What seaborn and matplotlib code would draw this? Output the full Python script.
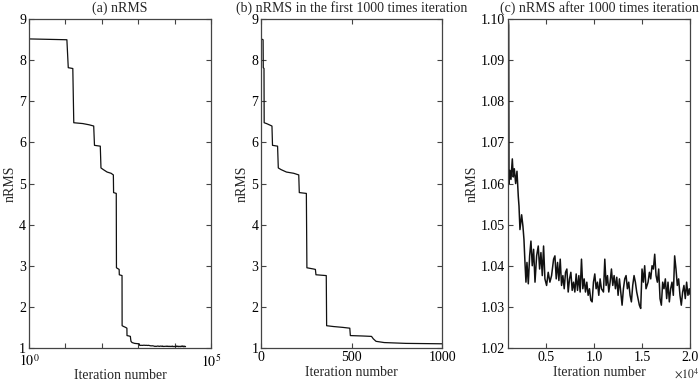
import matplotlib
matplotlib.use("Agg")
import matplotlib.pyplot as plt
import pandas as pd
import seaborn as sns
from matplotlib.ticker import FixedLocator, FuncFormatter, NullLocator


# staircase part of the run, iterations 1..1000
STEP_ITER = [1, 11, 12, 16, 17, 30, 45, 60, 63, 91, 95, 110, 140, 180, 208, 211,
             250, 253, 290, 300, 303, 360, 362, 400, 450, 490, 493, 560, 610,
             620, 635, 680, 800, 1000]
STEP_NRMS = [8.52, 8.50, 7.82, 7.80, 6.48, 6.46, 6.43, 6.40, 5.93, 5.91, 5.38,
             5.34, 5.28, 5.25, 5.21, 4.78, 4.76, 2.95, 2.92, 2.91, 2.78, 2.76,
             1.54, 1.52, 1.50, 1.48, 1.30, 1.29, 1.28, 1.22, 1.16, 1.13, 1.11,
             1.10]

# noisy part after 1000 iterations
TAIL_ITER = [1000, 1040, 1070, 1104, 1208, 1310, 1452, 1550, 1660, 1800, 1938,
             2077, 2150, 2250, 2350, 2424, 2560, 2667, 2772, 2876, 2980, 3120,
             3260, 3396, 3535, 3675, 3820, 3990, 4160, 4300, 4439, 4580, 4715,
             4855, 5030, 5200, 5375, 5550, 5760, 5900, 6036, 6175, 6314, 6452,
             6591, 6730, 6869, 7008, 7146, 7285, 7424, 7563, 7702, 7840, 7979,
             8118, 8257, 8396, 8534, 8673, 8812, 8951, 9090, 9228, 9367, 9506,
             9645, 9784, 9922, 10061, 10200, 10339, 10478, 10616, 10755, 10968,
             11106, 11245, 11384, 11523, 11662, 11800, 11939, 12078, 12217,
             12356, 12494, 12633, 12772, 12911, 13050, 13188, 13327, 13466,
             13605, 13744, 13882, 14021, 14160, 14299, 14438, 14576, 14715,
             14854, 14993, 15132, 15270, 15409, 15623, 15762, 15900, 16039,
             16178, 16317, 16456, 16594, 16733, 16872, 17011, 17150, 17288,
             17427, 17566, 17705, 17844, 17982, 18121, 18260, 18399, 18538,
             18676, 18815, 18954, 19093, 19232, 19370, 19509, 19648, 19787,
             19926, 20000]
TAIL_NRMS = [1.0990, 1.0995, 1.0985, 1.0600, 1.0632, 1.0610, 1.0660, 1.0616,
             1.0636, 1.0600, 1.0630, 1.0568, 1.0545, 1.0488, 1.0508, 1.0524,
             1.0496, 1.0464, 1.0408, 1.0360, 1.0408, 1.0356, 1.0424, 1.0460,
             1.0400, 1.0440, 1.0360, 1.0424, 1.0448, 1.0392, 1.0432, 1.0376,
             1.0448, 1.0368, 1.0352, 1.0384, 1.0360, 1.0376, 1.0416, 1.0424,
             1.0368, 1.0408, 1.0364, 1.0416, 1.0352, 1.0376, 1.0344, 1.0384,
             1.0392, 1.0336, 1.0368, 1.0384, 1.0340, 1.0360, 1.0336, 1.0380,
             1.0340, 1.0376, 1.0336, 1.0416, 1.0344, 1.0368, 1.0336, 1.0360,
             1.0328, 1.0344, 1.0316, 1.0312, 1.0360, 1.0380, 1.0344, 1.0360,
             1.0328, 1.0368, 1.0344, 1.0336, 1.0416, 1.0352, 1.0376, 1.0336,
             1.0360, 1.0392, 1.0352, 1.0376, 1.0344, 1.0372, 1.0328, 1.0368,
             1.0336, 1.0304, 1.0344, 1.0368, 1.0376, 1.0344, 1.0360, 1.0328,
             1.0312, 1.0352, 1.0376, 1.0360, 1.0336, 1.0320, 1.0304, 1.0296,
             1.0392, 1.0360, 1.0400, 1.0344, 1.0360, 1.0384, 1.0368, 1.0400,
             1.0392, 1.0428, 1.0376, 1.0360, 1.0392, 1.0320, 1.0304, 1.0360,
             1.0344, 1.0368, 1.0320, 1.0360, 1.0312, 1.0344, 1.0360, 1.0328,
             1.0424, 1.0392, 1.0352, 1.0368, 1.0328, 1.0304, 1.0336, 1.0352,
             1.0320, 1.0360, 1.0328, 1.0344, 1.0330]

TITLES = ["(a) nRMS", "(b) nRMS in the first 1000 times iteration",
          "(c) nRMS after 1000 times iteration"]
X_LABEL = "Iteration number"
Y_LABEL = "nRMS"

sns.set_theme(style="ticks")
plt.rcParams["font.family"] = ["Liberation Serif", "DejaVu Serif"]
plt.rcParams["mathtext.fontset"] = "stix"
plt.rcParams["axes.edgecolor"] = "#444444"
plt.rcParams["axes.linewidth"] = 0.9

step = pd.DataFrame({"iteration": STEP_ITER, "nrms": STEP_NRMS})
tail = pd.DataFrame({"iteration": TAIL_ITER, "nrms": TAIL_NRMS})
full = pd.concat([step, tail.iloc[1:]], ignore_index=True)

fig = plt.figure(figsize=(7.0, 3.84), dpi=100)
ax_a = fig.add_axes([0.0414, 0.094, 0.260, 0.856])
ax_b = fig.add_axes([0.373, 0.094, 0.2586, 0.856])
ax_c = fig.add_axes([0.7257, 0.094, 0.260, 0.856])

fs = 10
widths = [0.9, 0.9, 1.1]
for ax, frame, title, lw in zip([ax_a, ax_b, ax_c], [full, step, tail], TITLES, widths):
    sns.lineplot(data=frame, x="iteration", y="nrms", ax=ax, color="#111111",
                 linewidth=lw, estimator=None, sort=False)
    ax.set_title(title, fontsize=fs, pad=5)
    ax.set_xlabel(X_LABEL, fontsize=fs, labelpad=2)
    ax.set_ylabel(Y_LABEL, fontsize=fs, labelpad=2)
    ax.tick_params(direction="in", top=True, right=True, length=3.5, width=0.8,
                   colors="#444444", labelcolor="black", labelsize=fs, pad=2)
    for spine in ax.spines.values():
        spine.set_visible(True)

# (a) log iteration axis
ax_a.set_xscale("log")
ax_a.set_xlim(1, 1e5)
ax_a.set_ylim(1, 9)
ax_a.xaxis.set_major_locator(FixedLocator([1, 10, 100, 1000, 1e4, 1e5]))
ax_a.xaxis.set_minor_locator(NullLocator())
ax_a.xaxis.set_major_formatter(FuncFormatter(
    lambda v, _: {1: r"$10^0$", 1e5: r"$10^5$"}.get(round(v), "")))
ax_a.tick_params(axis="x", pad=4)
ax_a.set_xlabel(X_LABEL, fontsize=fs, labelpad=-1)
ax_a.set_yticks(range(1, 10))

# (b) first 1000 iterations
ax_b.set_xlim(0, 1000)
ax_b.set_ylim(1, 9)
ax_b.set_xticks([0, 500, 1000])
ax_b.set_yticks(range(1, 10))

# (c) after 1000 iterations
ax_c.set_xlim(1000, 20000)
ax_c.set_ylim(1.02, 1.10)
ax_c.set_xticks([5000, 10000, 15000, 20000])
ax_c.xaxis.set_major_formatter(FuncFormatter(lambda v, _: f"{v / 1e4:.1f}"))
ax_c.set_yticks([1.02 + 0.01 * i for i in range(9)])
ax_c.yaxis.set_major_formatter(FuncFormatter(lambda v, _: f"{v:.2f}"))
fig.text(0.9985, 0.028, r"$\times10^4$", fontsize=fs - 1.5, ha="right", va="center")

fig.savefig("out.png", dpi=100)
plt.close(fig)
